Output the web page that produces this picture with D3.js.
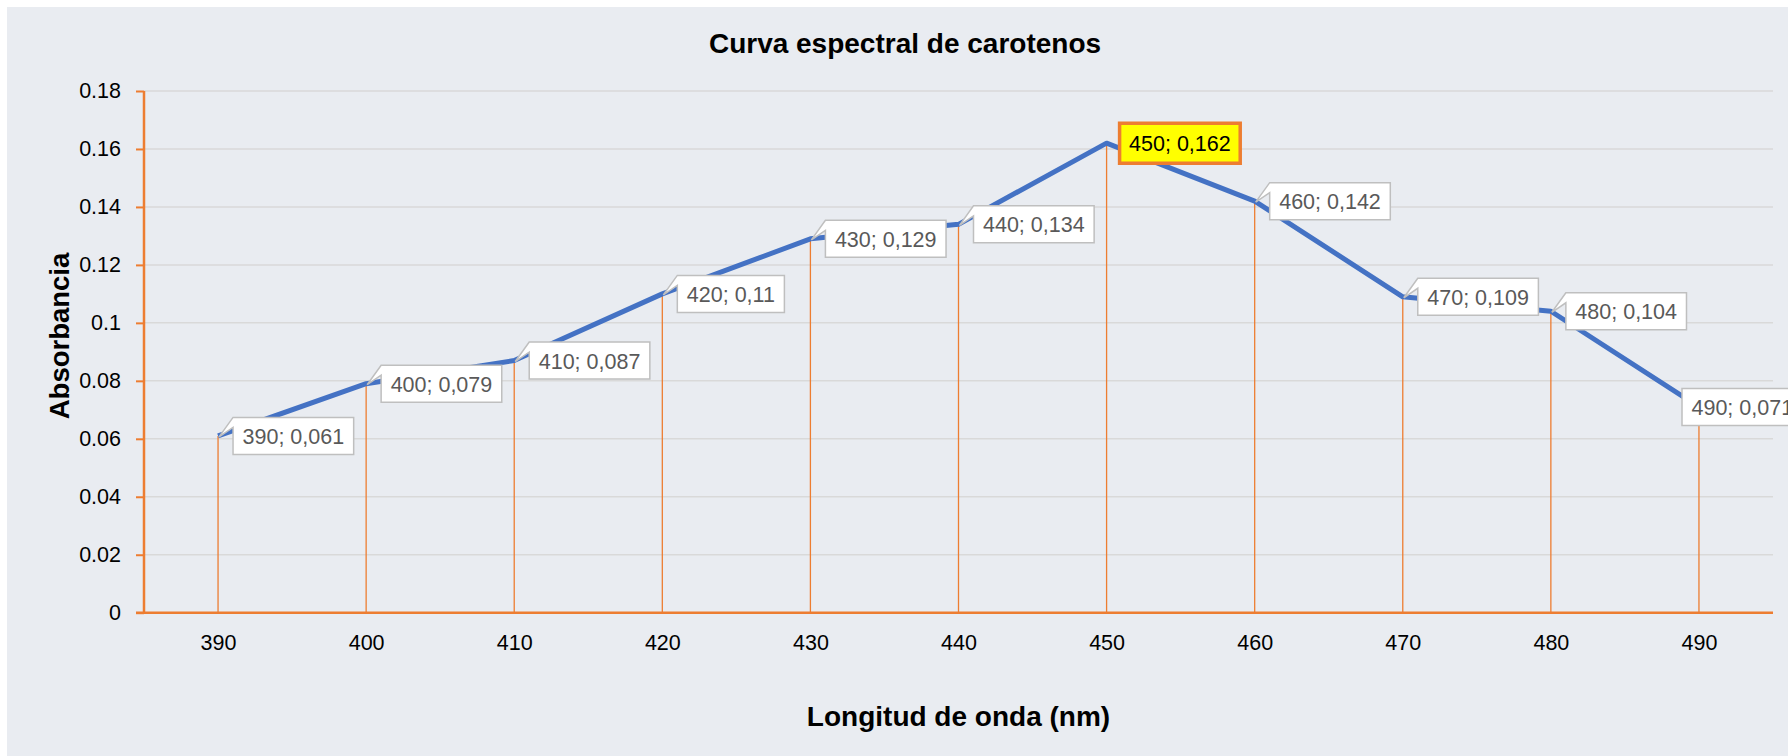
<!DOCTYPE html>
<html>
<head>
<meta charset="utf-8">
<script src="https://cdn.jsdelivr.net/npm/d3@7"></script>
<style>
  html, body { margin: 0; padding: 0; background: #ffffff; }
  svg { display: block; }
</style>
</head>
<body>
<svg id="chart"></svg>
<script>
// wavelength (nm) and absorbance
const wavelengths = [390, 400, 410, 420, 430, 440, 450, 460, 470, 480, 490];
const absorbance = [0.061, 0.079, 0.087, 0.11, 0.129, 0.134, 0.162, 0.142, 0.109, 0.104, 0.071];
const yTicks = [0, 0.02, 0.04, 0.06, 0.08, 0.1, 0.12, 0.14, 0.16, 0.18];
const highlighted = [450];

const width = 1788;
const height = 756;

const svg = d3.select("#chart").attr("width", width).attr("height", height);

const font = "'Liberation Sans', Arial, sans-serif";

// chart panel
svg.append("rect")
  .attr("x", 7).attr("y", 7)
  .attr("width", width - 7).attr("height", height - 7)
  .attr("fill", "#e9ecf1");

const plotL = 144, plotR = 1773, plotT = 91, plotB = 612.7;

const x = d3.scalePoint().domain(wavelengths).range([plotL, plotR]).padding(0.5);
const y = d3.scaleLinear().domain([0, 0.18]).range([plotB, plotT]);

const data = wavelengths.map((w, i) => ({ w: w, v: absorbance[i] }));

// gridlines
svg.append("g")
  .selectAll("line")
  .data(yTicks.filter(d => d > 0))
  .enter()
  .append("line")
  .attr("x1", plotL).attr("x2", plotR)
  .attr("y1", d => y(d)).attr("y2", d => y(d))
  .attr("stroke", "#d9d9d9")
  .attr("stroke-width", 1.5);

// drop lines
svg.append("g")
  .selectAll("line")
  .data(data)
  .enter()
  .append("line")
  .attr("x1", d => x(d.w)).attr("x2", d => x(d.w))
  .attr("y1", d => y(d.v)).attr("y2", plotB)
  .attr("stroke", "#ed7d31")
  .attr("stroke-width", 1.3);

// y axis
const yAxis = svg.append("g")
  .attr("transform", "translate(" + plotL + ",0)")
  .call(d3.axisLeft(y).tickValues(yTicks).tickSize(8).tickPadding(15)
    .tickFormat(d => String(d)));
yAxis.select(".domain").remove();
yAxis.selectAll(".tick line").attr("stroke", "#ed7d31").attr("stroke-width", 2);
yAxis.selectAll("text")
  .attr("font-family", font).attr("font-size", 21.5).attr("fill", "#000");
svg.append("line")
  .attr("x1", plotL).attr("x2", plotL)
  .attr("y1", plotT).attr("y2", plotB)
  .attr("stroke", "#ed7d31").attr("stroke-width", 2.5);

// x axis
const xAxis = svg.append("g")
  .attr("transform", "translate(0," + plotB + ")")
  .call(d3.axisBottom(x).tickSize(0).tickPadding(22));
xAxis.select(".domain").remove();
xAxis.selectAll("text")
  .attr("font-family", font).attr("font-size", 21.5).attr("fill", "#000");
svg.append("line")
  .attr("x1", plotL - 8).attr("x2", plotR)
  .attr("y1", plotB).attr("y2", plotB)
  .attr("stroke", "#ed7d31").attr("stroke-width", 2.5);

// series line
svg.append("path")
  .datum(data)
  .attr("fill", "none")
  .attr("stroke", "#4472c4")
  .attr("stroke-width", 5)
  .attr("stroke-linejoin", "round")
  .attr("d", d3.line().x(d => x(d.w)).y(d => y(d.v)));

// data labels (callouts)
const labels = svg.append("g");
data.forEach(d => {
  const px = x(d.w), py = y(d.v);
  const hi = highlighted.includes(d.w);
  const g = labels.append("g");
  const shape = g.append("path");
  const txt = g.append("text")
    .attr("font-family", font)
    .attr("font-size", 21.5)
    .attr("fill", hi ? "#000" : "#595959")
    .attr("dominant-baseline", "central")
    .text(d.w + "; " + String(d.v).replace(".", ","));
  const tw = txt.node().getComputedTextLength();
  // labels near the right edge are pushed back over their point
  const bx = Math.min(px + (hi ? 13 : 15), width - 106);
  const bw = tw + 19;
  const bh = hi ? 40 : 37;
  const by = py - bh / 2;
  txt.attr("x", bx + 9.5).attr("y", py + 1);
  if (hi) {
    shape.attr("d", "M" + bx + "," + by + "H" + (bx + bw) + "V" + (by + bh) + "H" + bx + "Z")
      .attr("fill", "#ffff00")
      .attr("stroke", "#ed7d31")
      .attr("stroke-width", 3.5);
  } else if (bx > px) {
    shape.attr("d",
      "M" + bx + "," + by +
      "H" + (bx + bw) + "V" + (by + bh) + "H" + bx +
      "V" + (by + 10) + "L" + (px + 1) + "," + (py + 1) + "Z")
      .attr("fill", "#ffffff")
      .attr("stroke", "#bfbfbf")
      .attr("stroke-width", 1.5)
      .attr("stroke-linejoin", "miter");
  } else {
    shape.attr("d", "M" + bx + "," + by + "H" + (bx + bw) + "V" + (by + bh) + "H" + bx + "Z")
      .attr("fill", "#ffffff")
      .attr("stroke", "#bfbfbf")
      .attr("stroke-width", 1.5);
  }
});

// titles
svg.append("text")
  .attr("x", 905).attr("y", 53)
  .attr("text-anchor", "middle")
  .attr("font-family", font).attr("font-weight", "bold").attr("font-size", 28)
  .attr("fill", "#000")
  .text("Curva espectral de carotenos");

svg.append("text")
  .attr("x", (plotL + plotR) / 2).attr("y", 726)
  .attr("text-anchor", "middle")
  .attr("font-family", font).attr("font-weight", "bold").attr("font-size", 28)
  .attr("fill", "#000")
  .text("Longitud de onda (nm)");

svg.append("text")
  .attr("transform", "translate(69,336) rotate(-90)")
  .attr("text-anchor", "middle")
  .attr("font-family", font).attr("font-weight", "bold").attr("font-size", 27.5)
  .attr("fill", "#000")
  .text("Absorbancia");
</script>
</body>
</html>
